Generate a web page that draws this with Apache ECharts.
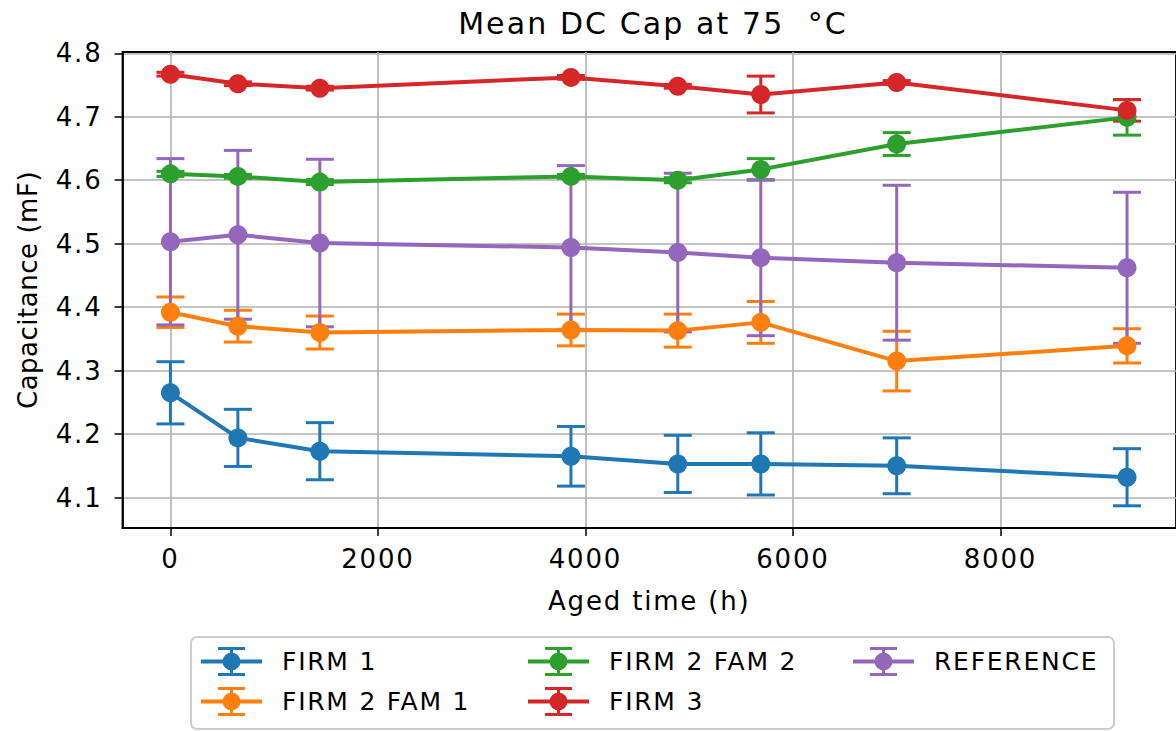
<!DOCTYPE html>
<html>
<head>
<meta charset="utf-8">
<script src="https://cdn.jsdelivr.net/npm/echarts@6/dist/echarts.min.js"></script>
<style>
html,body{margin:0;padding:0;background:#fff;}
#c{width:1176px;height:731px;}
#c svg text{letter-spacing:0.07em;}
#c svg text[transform^="matrix(0,-1,1,0"]{letter-spacing:0.02em;}
</style>
</head>
<body>
<div id="c"></div>
<script>
const agedTime = [0, 650, 1440, 3860, 4890, 5690, 7000, 9220];
const seriesNames = ['FIRM 1', 'FIRM 2 FAM 1', 'FIRM 2 FAM 2', 'FIRM 3', 'REFERENCE'];
const firm1Mean = [4.265, 4.194, 4.173, 4.165, 4.153, 4.153, 4.150, 4.132];
const firm1Err = [0.049, 0.045, 0.045, 0.047, 0.045, 0.049, 0.044, 0.045];
const firm2fam1Mean = [4.392, 4.370, 4.360, 4.364, 4.363, 4.376, 4.315, 4.339];
const firm2fam1Err = [0.024, 0.025, 0.026, 0.025, 0.026, 0.033, 0.047, 0.027];
const firm2fam2Mean = [4.610, 4.606, 4.597, 4.606, 4.600, 4.617, 4.657, 4.699];
const firm2fam2Err = [0.004, 0.003, 0.004, 0.003, 0.004, 0.017, 0.018, 0.028];
const firm3Mean = [4.767, 4.752, 4.745, 4.762, 4.748, 4.735, 4.754, 4.710];
const firm3Err = [0.003, 0.003, 0.003, 0.003, 0.003, 0.029, 0.003, 0.017];
const referenceMean = [4.503, 4.514, 4.501, 4.494, 4.486, 4.478, 4.470, 4.462];
const referenceErr = [0.131, 0.133, 0.132, 0.129, 0.125, 0.123, 0.122, 0.119];
const xTickValues = [0, 2000, 4000, 6000, 8000];
const yTickValues = [4.1, 4.2, 4.3, 4.4, 4.5, 4.6, 4.7, 4.8];

const colors = ['#1f77b4', '#ff7f0e', '#2ca02c', '#d62728', '#9467bd'];
const means = [firm1Mean, firm2fam1Mean, firm2fam2Mean, firm3Mean, referenceMean];
const errs = [firm1Err, firm2fam1Err, firm2fam2Err, firm3Err, referenceErr];
const FONT = 'DejaVu Sans';

const legendIcon = 'path://M0,13 L61,13 L61,17 L0,17 Z M29,2 L32,2 L32,28 L29,28 Z M17,0.5 L44,0.5 L44,3.5 L17,3.5 Z M17,26.5 L44,26.5 L44,29.5 L17,29.5 Z M21.5,15 A9,9 0 1,1 39.5,15 A9,9 0 1,1 21.5,15 Z';

const series = [];
seriesNames.forEach((name, i) => {
  series.push({
    name: name,
    type: 'custom',
    z: 1,
    silent: true,
    data: agedTime.map((t, k) => [t, means[i][k], errs[i][k]]),
    encode: { x: 0, y: 1 },
    renderItem: function (params, api) {
      const x = api.value(0), m = api.value(1), e = api.value(2);
      const top = api.coord([x, m + e]);
      const bot = api.coord([x, m - e]);
      const hw = 14;
      const style = { stroke: colors[i], lineWidth: 3, fill: null };
      return {
        type: 'group',
        children: [
          { type: 'line', shape: { x1: top[0], y1: top[1], x2: bot[0], y2: bot[1] }, style: style },
          { type: 'line', shape: { x1: top[0] - hw, y1: top[1], x2: top[0] + hw, y2: top[1] }, style: style },
          { type: 'line', shape: { x1: bot[0] - hw, y1: bot[1], x2: bot[0] + hw, y2: bot[1] }, style: style }
        ]
      };
    }
  });
});
seriesNames.forEach((name, i) => {
  series.push({
    name: name,
    type: 'line',
    z: 3,
    data: agedTime.map((t, k) => [t, means[i][k]]),
    symbol: 'circle',
    symbolSize: 19,
    showAllSymbol: true,
    lineStyle: { color: colors[i], width: 4 },
    itemStyle: { color: colors[i] },
    emphasis: { disabled: true }
  });
});

const legendCommon = {
  orient: 'vertical',
  padding: 0,
  itemWidth: 61,
  itemHeight: 30,
  itemGap: 11,
  icon: legendIcon,
  selectedMode: false,
  textStyle: { fontFamily: FONT, fontSize: 25, color: '#000', padding: [0, 0, 0, 15] }
};

const option = {
  animation: false,
  color: colors,
  backgroundColor: '#fff',
  title: {
    text: 'Mean DC Cap at 75  \u00b0C',
    left: 653,
    top: 8,
    textAlign: 'center',
    padding: 0,
    textStyle: { fontFamily: FONT, fontSize: 30, fontWeight: 'normal', color: '#000' }
  },
  grid: { left: 122.5, top: 52, right: -3, bottom: 203, containLabel: false,
    show: true, borderColor: '#000', borderWidth: 1.8, backgroundColor: 'transparent' },
  xAxis: {
    type: 'value',
    min: -462,
    max: 9692,
    name: 'Aged time (h)',
    nameLocation: 'middle',
    nameGap: 60,
    nameTextStyle: { fontFamily: FONT, fontSize: 26, color: '#000' },
    axisLine: { show: true, onZero: false, lineStyle: { color: '#000', width: 1.8 } },
    axisTick: { show: true, length: 8, lineStyle: { color: '#000', width: 1.5 }, customValues: xTickValues },
    axisLabel: { fontFamily: FONT, fontSize: 26, color: '#000', margin: 18, customValues: xTickValues,
      formatter: v => String(v) },
    splitLine: { show: true, lineStyle: { color: '#b0b0b0', width: 1.6 } }
  },
  yAxis: {
    type: 'value',
    min: 4.052,
    max: 4.802,
    name: 'Capacitance (mF)',
    nameLocation: 'middle',
    nameRotate: 90,
    nameGap: 82,
    nameTextStyle: { fontFamily: FONT, fontSize: 26, color: '#000' },
    axisLine: { show: true, onZero: false, lineStyle: { color: '#000', width: 1.8 } },
    axisTick: { show: true, length: 8, lineStyle: { color: '#000', width: 1.5 }, customValues: yTickValues },
    axisLabel: { fontFamily: FONT, fontSize: 26, color: '#000', margin: 20, customValues: yTickValues,
      formatter: v => v.toFixed(1) },
    splitLine: { show: true, lineStyle: { color: '#b0b0b0', width: 1.6 } }
  },
  legend: [
    Object.assign({}, legendCommon, { left: 201, top: 647, data: ['FIRM 1', 'FIRM 2 FAM 1'] }),
    Object.assign({}, legendCommon, { left: 528, top: 647, data: ['FIRM 2 FAM 2', 'FIRM 3'] }),
    Object.assign({}, legendCommon, { left: 853, top: 647, data: ['REFERENCE'] })
  ],
  graphic: [{
    type: 'rect',
    z: -1,
    shape: { x: 191, y: 637, width: 923, height: 92, r: 6 },
    style: { fill: '#fff', stroke: '#cccccc', lineWidth: 2 }
  }],
  series: series
};

const chart = echarts.init(document.getElementById('c'), null, { renderer: 'svg' });
chart.setOption(option);
</script>
</body>
</html>
